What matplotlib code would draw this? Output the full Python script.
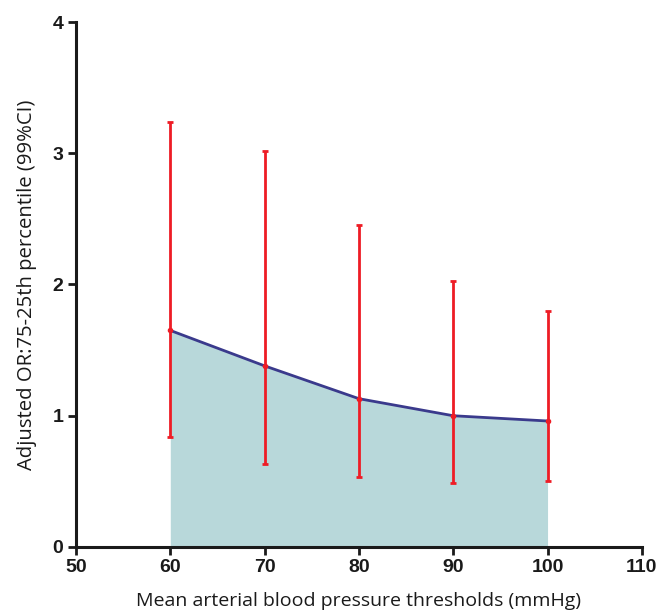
import matplotlib
matplotlib.use("Agg")
import matplotlib.pyplot as plt

# values
thresholds = [60, 70, 80, 90, 100]
odds_ratio = [1.65, 1.38, 1.13, 1.00, 0.96]
ci_upper = [3.24, 3.02, 2.45, 2.03, 1.80]
ci_lower = [0.84, 0.63, 0.53, 0.49, 0.50]

x_ticks = [50, 60, 70, 80, 90, 100, 110]
y_ticks = [0, 1, 2, 3, 4]

fig = plt.figure(figsize=(6.59, 6.15), dpi=100)
ax = fig.add_axes([0.1153, 0.1106, 0.8587, 0.8536])

ax.fill_between(thresholds, odds_ratio, 0, color="#b8d8da", linewidth=0, zorder=1)
ax.plot(thresholds, odds_ratio, color="#3a3a8c", linewidth=2, zorder=2)

err_low = [o - l for o, l in zip(odds_ratio, ci_lower)]
err_high = [u - o for o, u in zip(odds_ratio, ci_upper)]
ax.errorbar(thresholds, odds_ratio, yerr=[err_low, err_high], fmt="o", color="#ee1c25",
            markersize=3, elinewidth=2, capsize=2, capthick=2, zorder=3)

ax.set_xlim(50, 110)
ax.set_ylim(0, 4)
ax.set_xticks(x_ticks)
ax.set_yticks(y_ticks)

for side in ["top", "right"]:
    ax.spines[side].set_visible(False)
for side in ["left", "bottom"]:
    ax.spines[side].set_linewidth(2.2)
    ax.spines[side].set_color("#1a1a1a")

ax.tick_params(direction="out", length=6, width=2, color="#1a1a1a", pad=3)
for lbl in ax.get_xticklabels() + ax.get_yticklabels():
    lbl.set_fontfamily("Liberation Sans")
    lbl.set_fontweight("bold")
    lbl.set_fontsize(14)
    lbl.set_color("#1a1a1a")

ax.set_xlabel("Mean arterial blood pressure thresholds (mmHg)", fontsize=14,
              family="Open Sans", color="#1a1a1a", labelpad=11)
ax.set_ylabel("Adjusted OR:75-25th percentile (99%CI)", fontsize=14.6,
              family="Open Sans", color="#1a1a1a", labelpad=11)

fig.savefig("out.png", dpi=100)
